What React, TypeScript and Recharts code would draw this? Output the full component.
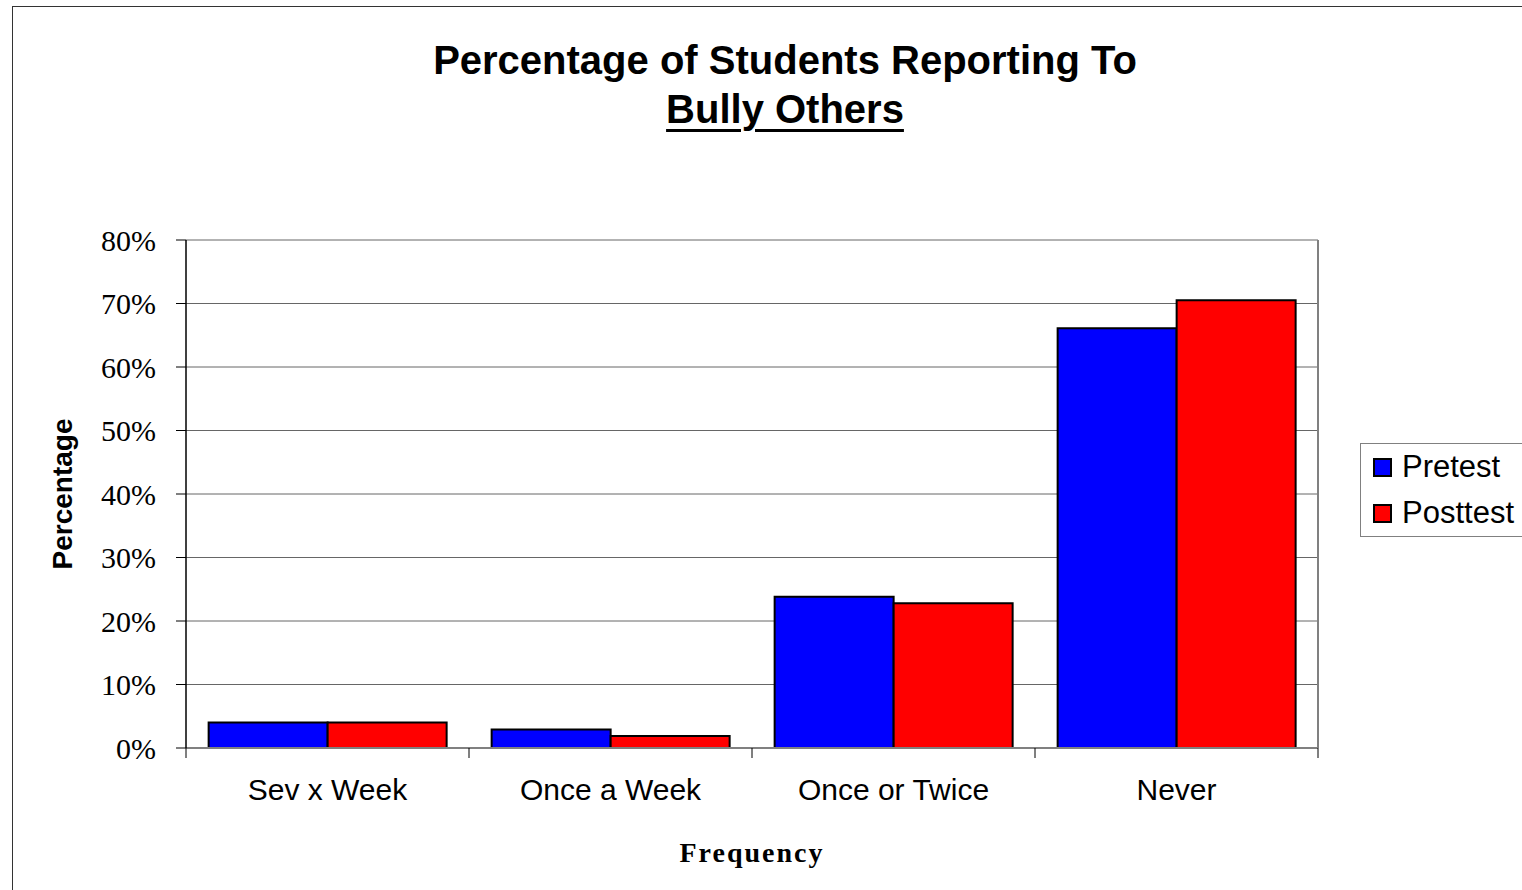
import { BarChart, Bar, XAxis, YAxis, CartesianGrid, Legend } from 'recharts'

const categories = ['Sev x Week', 'Once a Week', 'Once or Twice', 'Never']
const pretest = [4.0, 2.9, 23.8, 66.1]
const posttest = [4.0, 1.9, 22.8, 70.5]
const seriesNames = ['Pretest', 'Posttest']
const yTicks = [0, 10, 20, 30, 40, 50, 60, 70, 80]

const data = categories.map((name, i) => ({ name, pretest: pretest[i], posttest: posttest[i] }))

const ARIAL = '"Liberation Sans", Arial, sans-serif'
const TIMES = '"Liberation Serif", "Times New Roman", serif'
const TICK_SIZE = 10
const TICK_MARGIN = 21

// category label at the band centre, tick marks at the band edges (Excel style)
function CategoryTick({ x, y, payload, index, visibleTicksCount }: any) {
  const half = payload?.offset ?? 0
  const top = y - TICK_SIZE - TICK_MARGIN
  const last = index === visibleTicksCount - 1
  return (
    <g>
      <line x1={x - half} x2={x - half} y1={top} y2={top + TICK_SIZE} stroke="#000" />
      {last && <line x1={x + half} x2={x + half} y1={top} y2={top + TICK_SIZE} stroke="#000" />}
      <text x={x} y={y} dy="0.71em" textAnchor="middle" fontFamily={ARIAL} fontSize={30} fill="#000">
        {payload.value}
      </text>
    </g>
  )
}

function LegendBox({ payload }: any) {
  const items = [...(payload || [])].sort(
    (a: any, b: any) => seriesNames.indexOf(a.value) - seriesNames.indexOf(b.value)
  )
  return (
    <div style={{ border: '1px solid #808080', background: '#fff', padding: '0 12px', width: 180, boxSizing: 'border-box' }}>
      {items.map((p: any) => (
        <div key={p.value} style={{ display: 'flex', alignItems: 'center', height: 46, fontFamily: ARIAL, fontSize: 31, color: '#000' }}>
          <span style={{ width: 15, height: 15, background: p.color, border: '2px solid #000', marginRight: 10, display: 'inline-block' }} />
          {p.value}
        </div>
      ))}
    </div>
  )
}

export default function App() {
  return (
    <div style={{ position: 'absolute', left: 0, top: 0, width: 1522, height: 890, background: '#fff', overflow: 'hidden' }}>
      <div style={{ position: 'absolute', left: 12, top: 6, width: 1530, height: 900, border: '1px solid #333', boxSizing: 'border-box' }} />
      <div style={{ position: 'absolute', left: 0, top: 36, width: 1570, textAlign: 'center', fontFamily: ARIAL, fontWeight: 'bold', fontSize: 40, lineHeight: '49px', color: '#000' }}>
        Percentage of Students Reporting To
        <br />
        <span style={{ textDecoration: 'underline', textUnderlineOffset: 6, textDecorationThickness: 3 }}>Bully Others</span>
      </div>
      <div style={{ position: 'absolute', left: 0, top: 0 }}>
        <BarChart
          width={1522}
          height={890}
          data={data}
          margin={{ top: 240, right: 203, bottom: 80, left: 0 }}
          barCategoryGap="8%"
          barGap={0}
        >
          <CartesianGrid vertical={false} stroke="#666" strokeWidth={1} />
          <XAxis
            dataKey="name"
            height={62}
            axisLine={{ stroke: '#808080', strokeWidth: 2 }}
            tickLine={false}
            tickSize={TICK_SIZE}
            tickMargin={TICK_MARGIN}
            tick={<CategoryTick />}
            interval={0}
            label={{ value: 'Frequency', position: 'insideBottom', offset: -52, fontFamily: TIMES, fontWeight: 'bold', fontSize: 28, letterSpacing: 2, fill: '#000' }}
          />
          <YAxis
            width={186}
            domain={[0, 80]}
            ticks={yTicks}
            tickFormatter={(v: number) => `${v}%`}
            axisLine={{ stroke: '#000', strokeWidth: 1.5 }}
            tickLine={{ stroke: '#000' }}
            tickSize={10}
            tickMargin={20}
            tick={{ fontFamily: TIMES, fontSize: 30, fill: '#000' }}
            label={{ value: 'Percentage', angle: -90, position: 'insideLeft', offset: 62, fontFamily: ARIAL, fontWeight: 'bold', fontSize: 28, fill: '#000', style: { textAnchor: 'middle' } }}
          />
          <YAxis
            yAxisId="frame"
            orientation="right"
            width={1}
            domain={[0, 80]}
            ticks={yTicks}
            axisLine={{ stroke: '#808080', strokeWidth: 2 }}
            tickLine={false}
            tick={false}
          />
          <Legend
            layout="vertical"
            align="center"
            verticalAlign="middle"
            content={<LegendBox />}
            wrapperStyle={{ left: 1360, top: 443, width: 180 }}
          />
          <Bar dataKey="pretest" name="Pretest" fill="#0000FF" stroke="#000" strokeWidth={2} isAnimationActive={false} />
          <Bar dataKey="posttest" name="Posttest" fill="#FF0000" stroke="#000" strokeWidth={2} isAnimationActive={false} />
        </BarChart>
      </div>
    </div>
  )
}
